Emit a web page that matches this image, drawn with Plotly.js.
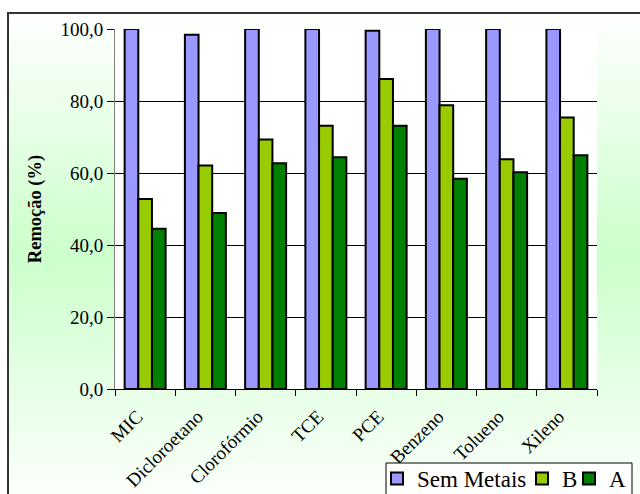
<!DOCTYPE html>
<html>
<head>
<meta charset="utf-8">
<script src="https://cdn.plot.ly/plotly-3.0.1.min.js"></script>
<style>
  html, body { margin: 0; padding: 0; width: 640px; height: 494px; overflow: hidden; background: #ffffff; }
  #frame { position: absolute; left: 7px; top: 12px; width: 700px; height: 500px;
           border: 2px solid #333333;
           background: linear-gradient(to bottom, #ffffff 0%, #ccffcc 48%, #ffffff 100%); }
  #chart { position: absolute; left: 0; top: 0; width: 640px; height: 494px; }
</style>
</head>
<body>
<div id="frame"></div>
<div id="chart"></div>
<script>
const categories = ["MIC", "Dicloroetano", "Clorofórmio", "TCE", "PCE", "Benzeno", "Tolueno", "Xileno"];
const semMetais = [100.0, 98.4, 100.0, 100.0, 99.5, 100.0, 100.0, 100.0];
const serieB    = [52.8, 62.1, 69.3, 73.1, 86.1, 78.8, 63.8, 75.4];
const serieA    = [44.5, 48.9, 62.7, 64.4, 73.1, 58.4, 60.2, 64.9];
const yTicks = [0, 20, 40, 60, 80, 100];

const serif = "'Liberation Serif', 'Times New Roman', serif";
const lineStyle = { color: '#000000', width: 2 };

const traces = [
  { type: 'bar', name: 'Sem Metais', x: categories, y: semMetais, legend: 'legend',  marker: { color: '#9999ff', line: lineStyle } },
  { type: 'bar', name: 'B',          x: categories, y: serieB,    legend: 'legend2', marker: { color: '#99cc00', line: lineStyle } },
  { type: 'bar', name: 'A',          x: categories, y: serieA,    legend: 'legend3', marker: { color: '#008000', line: lineStyle } }
];

const W = 640, H = 494;
const legendTop = 457;
function legendAt(px) {
  return {
    orientation: 'h',
    xref: 'container', yref: 'container',
    x: px / W, y: (H - legendTop) / H,
    xanchor: 'left', yanchor: 'top',
    bgcolor: 'rgba(0,0,0,0)', borderwidth: 0,
    font: { family: serif, size: 23, color: '#000000' },
    itemwidth: 30
  };
}

// legend frame box (pixel -> paper conversion of the plot area 115..597 x 29..389)
const pl = 115, pr = 597, pt = 29, pb = 389;
const toPX = px => (px - pl) / (pr - pl);
const toPY = py => (pb - py) / (pb - pt);

const layout = {
  width: W, height: H,
  margin: { l: 115, r: 43, t: 29, b: 105 },
  paper_bgcolor: 'rgba(0,0,0,0)',
  plot_bgcolor: '#ffffff',
  separators: ',.',
  barmode: 'group',
  bargap: 0.32,
  bargroupgap: 0,
  font: { family: serif, color: '#000000', size: 19 },
  showlegend: true,
  hovermode: false,
  xaxis: {
    type: 'category',
    tickangle: -45,
    tickson: 'boundaries',
    ticks: 'outside', ticklen: 6, tickcolor: '#000000', tickwidth: 1,
    showline: true, linecolor: '#000000', linewidth: 1,
    showgrid: false, zeroline: false,
    tickfont: { family: serif, size: 19, color: '#000000' },
    ticklabelstandoff: 8,
    ticklabelshift: -8,
    automargin: false
  },
  yaxis: {
    range: [0, 100],
    tickvals: yTicks,
    tickformat: '.1f',
    ticks: 'outside', ticklen: 7, tickcolor: '#000000', tickwidth: 1,
    showline: true, linecolor: '#808080', linewidth: 1,
    showgrid: true, gridcolor: '#000000', gridwidth: 1,
    zeroline: false,
    tickfont: { family: serif, size: 19, color: '#000000' },
    title: { text: 'Remoção (%)', font: { family: serif, size: 18.5, color: '#000000', weight: 'bold' }, standoff: 13 },
    automargin: false
  },
  legend:  legendAt(377),
  legend2: legendAt(522),
  legend3: legendAt(569),
  shapes: [
    { type: 'rect', xref: 'paper', yref: 'paper', layer: 'above',
      x0: toPX(386), x1: toPX(632), y0: toPY(463), y1: toPY(520),
      fillcolor: '#ffffff', line: { color: '#000000', width: 1 } }
  ]
};

Plotly.newPlot('chart', traces, layout, { displayModeBar: false, staticPlot: true });
</script>
</body>
</html>
